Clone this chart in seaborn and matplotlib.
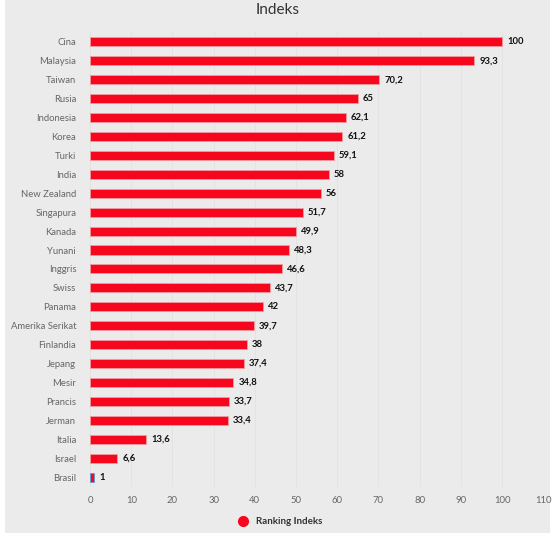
import matplotlib

matplotlib.use("Agg", force=True)
import matplotlib.pyplot as plt
import pandas as pd
import seaborn as sns
from matplotlib.lines import Line2D
from matplotlib.patches import Rectangle

COUNTRIES = [
    "Cina", "Malaysia", "Taiwan", "Rusia", "Indonesia", "Korea", "Turki", "India",
    "New Zealand", "Singapura", "Kanada", "Yunani", "Inggris", "Swiss", "Panama",
    "Amerika Serikat", "Finlandia", "Jepang", "Mesir", "Prancis", "Jerman",
    "Italia", "Israel", "Brasil",
]
VALUES = [
    100, 93.3, 70.2, 65, 62.1, 61.2, 59.1, 58, 56, 51.7, 49.9, 48.3, 46.6,
    43.7, 42, 39.7, 38, 37.4, 34.8, 33.7, 33.4, 13.6, 6.6, 1,
]
X_TICKS = list(range(0, 111, 10))

BG = "#ebebeb"
RED = "#f7071d"


def fmt(v):
    s = f"{v:g}"
    return s.replace(".", ",")


def main():
    sns.set_theme(style="white")
    plt.rcParams["font.family"] = ["Lato", "DejaVu Sans"]

    df = pd.DataFrame({"country": COUNTRIES, "value": VALUES})

    fig = plt.figure(figsize=(5.56, 5.33), dpi=100, facecolor="white")
    fig.patches.append(Rectangle((5 / 556, 0), 545 / 556, 1, transform=fig.transFigure,
                                 facecolor=BG, edgecolor="none", zorder=-10))
    ax = fig.add_axes([0.162, 0.0872, 0.815, 0.852])
    ax.set_facecolor(BG)

    sns.barplot(data=df, x="value", y="country", color=RED, width=0.48,
                saturation=1, edgecolor="#f39aa2", linewidth=0.6, ax=ax)
    # Brasil bar has a blue outline in the original
    ax.patches[-1].set_edgecolor("#5b9bd5")

    for i, v in enumerate(VALUES):
        ax.text(v + 1.2, i, fmt(v), va="center", ha="left", fontsize=6.8,
                fontweight="bold", color="#111111")

    ax.set_xlim(0, 110)
    ax.set_xticks(X_TICKS)
    ax.grid(axis="x", color="#e3e3e3", linewidth=0.7)
    ax.set_axisbelow(True)
    for s in ax.spines.values():
        s.set_visible(False)
    ax.axvline(0, color="#d6d6d6", linewidth=0.7, zorder=0.5)
    ax.tick_params(axis="both", length=0, labelsize=6.8, colors="#666666")
    ax.tick_params(axis="y", pad=10)
    ax.tick_params(axis="x", pad=7)
    ax.set_xlabel("")
    ax.set_ylabel("")

    fig.text(0.5, 0.981, "Indeks", ha="center", va="center", fontsize=11, color="#333333")

    handle = Line2D([], [], marker="o", linestyle="", color=RED, markersize=7)
    leg = fig.legend([handle], ["Ranking Indeks"], loc="center", bbox_to_anchor=(0.5, 0.021),
                     frameon=False, prop={"size": 7, "weight": "bold"}, handletextpad=0.3)
    for t in leg.get_texts():
        t.set_color("#333333")

    fig.savefig("out.png", dpi=100, facecolor=fig.get_facecolor())
    plt.close(fig)


if __name__ == "__main__":
    main()
